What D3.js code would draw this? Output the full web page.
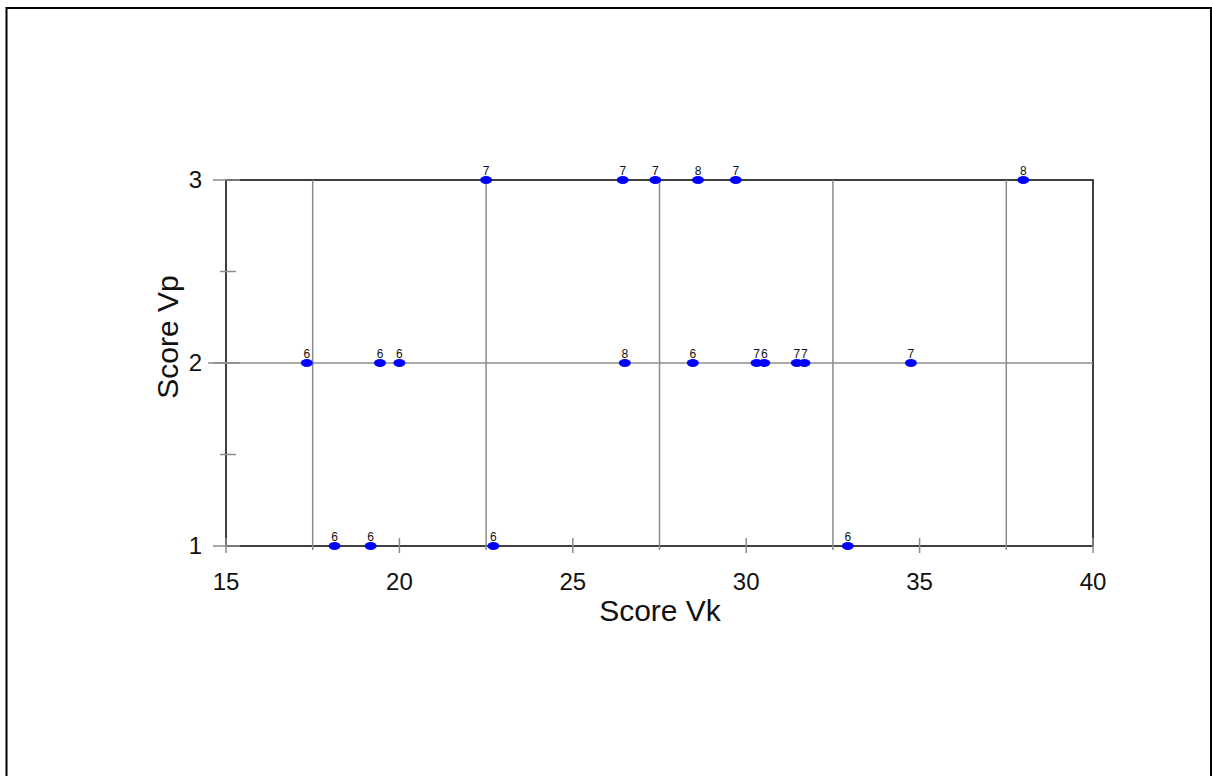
<!DOCTYPE html>
<html>
<head>
<meta charset="utf-8">
<script src="https://cdnjs.cloudflare.com/ajax/libs/d3/7.8.5/d3.min.js"></script>
<style>
  body { margin: 0; background: #fff; }
  svg { display: block; font-family: "Liberation Sans", Arial, sans-serif; }
</style>
</head>
<body>
<div id="chart"></div>
<script>
// data
var vk     = [22.5, 26.44, 27.38, 28.61, 29.7, 37.99,
              17.33, 19.44, 20.0, 26.5, 28.46, 30.3, 30.52, 31.46, 31.68, 34.75,
              18.13, 19.17, 22.71, 32.93]
var vp     = [3, 3, 3, 3, 3, 3,
              2, 2, 2, 2, 2, 2, 2, 2, 2, 2,
              1, 1, 1, 1]
var labels = ["7", "7", "7", "8", "7", "8",
              "6", "6", "6", "8", "6", "7", "6", "7", "7", "7",
              "6", "6", "6", "6"]
var xMajor = [15, 20, 25, 30, 35, 40]
var xMinor = [17.5, 22.5, 27.5, 32.5, 37.5]
var yMajor = [1, 2, 3]
var yMinor = [1.5, 2.5]

var W = 1212, H = 776
var svg = d3.select("#chart").append("svg").attr("width", W).attr("height", H)

var x = d3.scaleLinear().domain([15, 40]).range([226, 1093])
var y = d3.scaleLinear().domain([1, 3]).range([546, 180])

// outer frame (no bottom edge)
svg.append("path")
   .attr("d", "M6.5," + H + "V8H1211" + "V" + H)
   .attr("fill", "none").attr("stroke", "#000").attr("stroke-width", 2)

// plot box
svg.append("rect")
   .attr("x", x(15)).attr("y", y(3))
   .attr("width", x(40) - x(15)).attr("height", y(1) - y(3))
   .attr("fill", "none").attr("stroke", "#000").attr("stroke-width", 1.5)

var gray = "#8c8c8c"
// vertical grid lines at minor x ticks
svg.append("g").selectAll("line").data(xMinor).enter().append("line")
   .attr("x1", d => x(d)).attr("x2", d => x(d))
   .attr("y1", y(3)).attr("y2", y(1) + 4)
   .attr("stroke", gray).attr("stroke-width", 1.5)
// major x ticks crossing the axis
svg.append("g").selectAll("line").data(xMajor).enter().append("line")
   .attr("x1", d => x(d)).attr("x2", d => x(d))
   .attr("y1", y(1) - 8).attr("y2", y(1) + 7)
   .attr("stroke", gray).attr("stroke-width", 1.5)
// horizontal grid at y = 2
svg.append("line")
   .attr("x1", 208).attr("x2", x(40))
   .attr("y1", y(2)).attr("y2", y(2))
   .attr("stroke", gray).attr("stroke-width", 1.5)
// y ticks
svg.append("g").selectAll("line").data(yMajor).enter().append("line")
   .attr("x1", 213).attr("x2", 240)
   .attr("y1", d => y(d)).attr("y2", d => y(d))
   .attr("stroke", gray).attr("stroke-width", 1.5)
svg.append("g").selectAll("line").data(yMinor).enter().append("line")
   .attr("x1", 220).attr("x2", 236)
   .attr("y1", d => y(d)).attr("y2", d => y(d))
   .attr("stroke", gray).attr("stroke-width", 1.5)

// tick labels
svg.append("g").selectAll("text").data(xMajor).enter().append("text")
   .attr("x", d => x(d)).attr("y", 590)
   .attr("text-anchor", "middle").attr("font-size", 24).attr("fill", "#111")
   .text(d => d)
svg.append("g").selectAll("text").data(yMajor).enter().append("text")
   .attr("x", 202).attr("y", d => y(d) + 8)
   .attr("text-anchor", "end").attr("font-size", 24).attr("fill", "#111")
   .text(d => d)

// axis titles
svg.append("text")
   .attr("x", 660).attr("y", 621)
   .attr("text-anchor", "middle").attr("font-size", 30).attr("fill", "#111")
   .text("Score Vk")
svg.append("text")
   .attr("transform", "translate(178,337) rotate(-90)")
   .attr("text-anchor", "middle").attr("font-size", 30).attr("fill", "#111")
   .text("Score Vp")

// points
var idx = d3.range(vk.length)
svg.append("g").selectAll("ellipse").data(idx).enter().append("ellipse")
   .attr("cx", i => x(vk[i])).attr("cy", i => y(vp[i]))
   .attr("rx", 6).attr("ry", 4)
   .attr("fill", "#0000ff")
svg.append("g").selectAll("text").data(idx).enter().append("text")
   .attr("x", i => x(vk[i])).attr("y", i => y(vp[i]) - 5)
   .attr("text-anchor", "middle").attr("font-size", 12).attr("fill", "#111")
   .text(i => labels[i])
</script>
</body>
</html>
